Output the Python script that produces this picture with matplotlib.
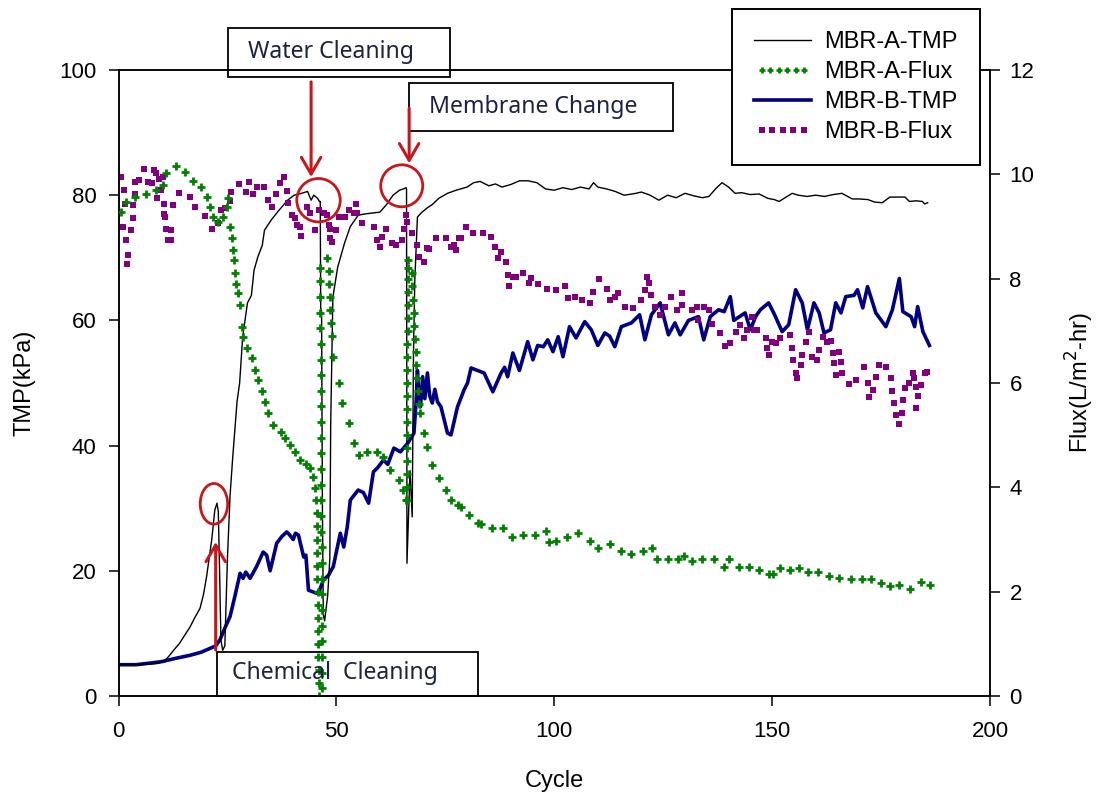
import matplotlib
matplotlib.use("Agg")
import matplotlib.pyplot as plt
from matplotlib.lines import Line2D
from matplotlib.patches import Rectangle, Ellipse
from matplotlib.legend_handler import HandlerLine2D

plt.rcParams['font.family'] = ['Liberation Sans', 'DejaVu Sans']

# ---------------- data ----------------
# MBR-A transmembrane pressure (kPa)
a_tmp_cycle = [0.6, 5, 9, 10.5, 11.5, 13, 14, 15, 16.4, 17.5, 18.7, 19.5, 20.2, 20.8, 21.4, 22.1, 22.6,
               22.9, 23.2, 23.5, 23.9, 24.4, 25.0, 25.6, 26.2, 26.7, 27.2, 27.8, 28.5, 29.6, 30.5, 31.1,
               32, 33, 33.5, 35, 36.6, 38.8, 40.3, 42, 43.4, 44.2, 44.8, 45.7, 46.1, 46.3, 46.4, 46.6,
               46.8, 47.0, 47.3, 48.0, 48.5, 48.7, 49.2, 50.3, 51.9, 53.2, 55, 56.5, 60, 61.5, 63, 64.5,
               65.4, 66.0, 66.1, 66.2, 66.9, 67.4, 67.7, 68.0, 68.6, 69.5, 70.9, 72, 73.5, 75.5, 77.5,
               80, 81.5, 83, 85, 86.5, 88, 90, 92, 94, 96, 98, 100, 102, 104, 106, 108, 109, 110, 112,
               114, 116, 118, 120, 122, 124, 126, 128, 130, 132, 134, 135.5, 137, 138.5, 140, 141.5,
               143, 145, 147, 149, 150.5, 151.6, 153, 154.6, 156, 158, 160, 162, 164, 166, 168.4, 170,
               172, 173.5, 175.3, 177, 179, 180.5, 181.5, 183, 184.5, 185, 185.7]
a_tmp = [5.0, 5.0, 5.2, 5.6, 6.3, 7.6, 8.4, 9.5, 11, 12.5, 14, 16.2, 19, 22, 25, 29.7, 30.8,
         29.5, 20, 9, 7.3, 8, 22, 32, 38, 42.5, 47, 50, 57.4, 62.8, 64, 68,
         70.2, 72, 74.4, 76, 77.4, 79.2, 80, 80.3, 80.6, 79.2, 80, 79.5, 79.0, 79, 62, 61.5,
         30, 13, 12, 16, 22, 43.6, 63.7, 68.5, 72.4, 75, 76.8, 77, 77.3, 78.5, 80, 80.8,
         81, 81.2, 81, 21.2, 36, 28.6, 55, 66.5, 76.5, 77.2, 78, 78.5, 79.5, 80.3, 80.8,
         81.3, 82, 82.2, 81.5, 81.8, 81.3, 81.7, 82.3, 82.3, 82.0, 81.0, 80.8, 81.2, 80.9, 81.3, 81, 82, 81.3, 81,
         80.6, 80.0, 80.2, 80.5, 80.0, 79.2, 80.0, 79.6, 80.3, 79.9, 79.6, 79.8, 81, 82, 81.3, 80.3,
         80.4, 80.1, 80.2, 79.5, 79.3, 79.0, 79.6, 80.3, 80.0, 79.8, 80, 79.8, 80.1, 80.3, 79.4, 79.4,
         79.3, 78.9, 78.8, 79.7, 79.7, 79.7, 79.0, 79.1, 79.0, 78.6, 78.8]

# MBR-B transmembrane pressure (kPa)
b_tmp_cycle = [0.6, 4, 7.8, 10, 13, 16.4, 19, 21, 22.3, 23.3, 24.5, 25.6, 26.7, 27.9, 28.6, 29.2, 30.2,
               31.7, 33.2, 34.0, 34.8, 36.3, 37.5, 38.6, 39.2, 40.1, 40.6, 41.3, 42.5, 43.0, 43.6, 45.5,
               46.2, 47, 48.2, 49.3, 50.3, 50.9, 51.7, 52.5, 53.2, 55, 56.2, 57.4, 58.5, 59.5, 60.8,
               61.8, 63.2, 64.7, 66.4, 67.8, 68.3, 68.6, 69.0, 69.3, 69.8, 70.3, 70.9, 71.4, 72, 72.6,
               73.2, 74, 75.5, 76.3, 77.8, 79.3, 80.1, 80.9, 82.4, 83.9, 85.9, 87.8, 88.6, 89.3, 90.5,
               92, 93.9, 95.1, 96.2, 97.5, 98.5, 99.7, 100.9, 102, 103.5, 105, 107, 108.5, 110, 111.6,
               112.7, 113.9, 115.4, 117.7, 119.6, 120.8, 122.3, 124.3, 126.2, 127.7, 128.9, 130.8,
               133.1, 134.3, 135.8, 137.7, 139, 140.4, 141.2, 143.8, 145, 146.2, 147.3, 149.2, 150.5,
               152.3, 153.8, 155.4, 156.9, 158.1, 159.6, 160.8, 161.9, 163.4, 164.6, 165.8, 166.9,
               168.8, 169.6, 170.8, 171.9, 173.8, 176.1, 177.6, 179.2, 180, 181.9, 182.7, 183.4, 184.6,
               186.1]
b_tmp = [5.0, 5.0, 5.3, 5.5, 6.0, 6.5, 7.0, 7.6, 8.0, 9.0, 11, 12.7, 15.9, 19.6, 18.8, 19.8, 18.8,
         20.7, 23, 22.5, 20, 24.4, 25.5, 26.2, 25.8, 25, 26, 25.7, 22.2, 22.5, 16.9, 16.4,
         17, 18.5, 19.3, 20.7, 24, 26, 23.8, 27, 31.3, 32.9, 32.5, 30.8, 35.8, 36.5, 37.7,
         37.0, 39.6, 39, 40.4, 42, 47, 52, 47, 46.2, 51, 47.5, 51.6, 48, 46.8, 49,
         47, 46.2, 42, 41.7, 46.2, 48.9, 50, 52.4, 52, 51.6, 48.6, 51.6, 52.5, 51, 54.8,
         52, 56.6, 53.7, 56, 55.8, 56.9, 55, 57.4, 54.2, 59, 57.2, 59.8, 58.5, 56, 58,
         57.5, 55.8, 59, 59.6, 60.9, 56.9, 60.9, 62.8, 57.7, 59.6, 57.7, 60,
         60.6, 56.9, 60.6, 61.7, 61.4, 63.8, 60, 61.2, 58.5, 60.6, 61.7, 62.8, 61,
         58.2, 59.3, 64.9, 62.8, 58.5, 62.8, 61.2, 58, 58.5, 62.8, 61.2, 63.8,
         64, 64.9, 62, 65.4, 61.2, 59, 61.7, 66.7, 61.4, 60.6, 59, 62.2, 58.2,
         56]

# MBR-A flux (L/m2-hr)
a_flux_cycle = [0.6, 1.8, 3.7, 6.4, 8.5, 10.2, 11.0, 13.1, 15.2, 17.0, 19.0, 20.3, 21.1, 21.7, 22.8,
                24.0, 24.8, 25.2, 25.6, 26.0, 26.2, 26.5, 26.8, 27.0, 27.5, 27.9, 28.3, 28.6, 29.4,
                30.6, 31.3, 32.1, 33.0, 33.6, 34.4, 35.5, 37.2, 38.3, 39.4, 40.5, 41.7, 43.0, 44.0,
                44.7, 45.2,
                45.40, 45.44, 45.48, 45.52, 45.56, 45.60, 45.64, 45.68, 45.72, 45.76, 45.80, 45.84,
                45.88, 45.92, 45.96, 46.00,
                46.75, 46.74, 46.72, 46.70, 46.69, 46.67, 46.65, 46.63, 46.62, 46.60, 46.58, 46.56,
                46.55, 46.53, 46.51, 46.49, 46.48, 46.46, 46.44, 46.42, 46.41, 46.39, 46.37, 46.35,
                46.34, 46.32, 46.30, 46.30, 47.9,
                48.2, 48.3, 48.45, 48.6, 48.75, 48.9, 49.3, 50.5, 51.3, 52.8, 54.0, 55.1, 57.0, 59.4,
                60.8, 62.4, 64.3, 65.4, 65.9,
                66.20, 66.21, 66.22, 66.23, 66.24, 66.25, 66.26, 66.27, 66.28, 66.29, 66.30, 66.31,
                66.32, 66.33, 66.34, 66.35, 66.36, 66.37, 66.38, 66.40,
                67.3, 67.45, 67.6, 67.75, 67.9, 68.05, 68.2, 68.35, 68.5, 68.7, 68.9,
                69.3, 70.0, 70.9, 72.0, 73.5, 75.1, 76.3, 77.8, 78.6, 80.5, 82.4, 83.2, 85.6, 88.2,
                90.3, 92.8, 95.5, 98.2, 98.7, 100.5, 103.0, 105.5, 108.1, 110.0, 112.7, 115.3, 117.7,
                120.4, 122.5, 123.5, 126.0, 128.5, 129.7, 131.6, 134.0, 136.6, 138.9, 140.0, 142.3,
                144.6, 147.0, 149.2, 150.2, 151.9, 154.0, 156.1, 158.3, 160.6, 163.0, 165.4, 168.0,
                170.6, 172.7, 175.0, 177.0, 179.2, 181.6, 184.2, 186.3]
a_flux = [9.28, 9.47, 9.57, 9.62, 9.7, 9.8, 10.02, 10.16, 10.05, 9.87, 9.76, 9.57, 9.38, 9.19, 9.09,
          9.19, 9.38, 9.55, 9.0, 8.78, 8.55, 8.36, 8.1, 7.9, 7.72, 7.5, 7.08, 6.89, 6.67,
          6.48, 6.25, 6.06, 5.85, 5.64, 5.42, 5.19, 5.06, 4.95, 4.81, 4.67, 4.52, 4.45, 4.37,
          4.2, 3.99,
          3.75, 3.5, 3.25, 3.0, 2.75, 2.5, 2.25, 2.0, 1.75, 1.5, 1.25, 1.0,
          0.75, 0.5, 0.25, 0.0,
          0.15, 0.45, 0.75, 1.05, 1.35, 1.65, 1.95, 2.25, 2.55, 2.85, 3.15, 3.45,
          3.75, 4.05, 4.35, 4.65, 4.95, 5.25, 5.55, 5.85, 6.15, 6.45, 6.75, 7.05,
          7.35, 7.65, 7.95, 8.2, 8.4,
          8.15, 7.9, 7.65, 7.4, 7.15, 6.9, 6.5, 6.0, 5.62, 5.23, 4.85, 4.62, 4.68, 4.68,
          4.59, 4.33, 4.14, 3.95, 3.76,
          3.75, 4.0, 4.25, 4.5, 4.75, 5.0, 5.25, 5.5, 5.75, 6.0, 6.25, 6.5,
          6.75, 7.0, 7.25, 7.5, 7.75, 8.0, 8.2, 8.36,
          8.1, 7.85, 7.6, 7.35, 7.1, 6.85, 6.6, 6.35, 6.1, 5.85, 5.6,
          5.42, 5.04, 4.78, 4.43, 4.18, 3.95, 3.76, 3.66, 3.63, 3.47, 3.31, 3.3, 3.23, 3.23,
          3.05, 3.09, 3.09, 3.17, 2.96, 2.98, 3.05, 3.13, 2.98, 2.83, 2.91, 2.77, 2.72,
          2.77, 2.83, 2.63, 2.63, 2.63, 2.69, 2.59, 2.63, 2.63, 2.48, 2.63, 2.48,
          2.48, 2.42, 2.33, 2.33, 2.45, 2.42, 2.45, 2.37, 2.37, 2.3, 2.27, 2.24,
          2.24, 2.24, 2.16, 2.11, 2.13, 2.05, 2.19, 2.13]

# MBR-B flux (L/m2-hr)
b_flux_cycle = [0.6, 1.0, 1.2, 1.4, 1.8, 1.9, 2.2, 2.9, 3.3, 3.3, 3.7, 3.7, 4.8, 5.8, 6.8, 7.8, 8.1,
                8.7, 8.8, 9.4, 9.8, 10.2, 10.4, 10.5, 10.6, 11, 11.4, 12.1, 12.1, 12.5, 13.9, 16.4,
                17.5, 19.8, 21.4, 22.9, 23.6, 24.4, 25.6, 25.8, 27.7, 29.3, 30, 30.9, 31.7, 33.4,
                34.4, 35.2, 36.2, 37.1, 38, 38.6, 39, 39.8, 40.6, 40.9, 41.7, 41.9, 43.2, 44, 45.2,
                45.9, 47.1, 47.9, 48.2, 48.6, 48.6, 49, 49.8, 50.5, 51.3, 52, 52.8, 54, 54.4, 54.8,
                55.9, 58.6, 59.4, 60.1, 60.5, 61.3, 62.8, 63.6, 65.1, 65.5, 65.9, 66.3, 67.4, 68.6,
                69, 70.1, 70.9, 71.3, 72.8, 75.1, 76.3, 77, 77.4, 78.2, 78.6, 79.7, 81.3, 83.6,
                85.5, 86.3, 87, 87.8, 88.9, 89.3, 89.7, 90.5, 91.2, 92.8, 94.3, 94.7, 96.2, 98.4,
                100.5, 102.4, 103.2, 104.7, 106.4, 108.1, 108.9, 110.3, 112, 112.7, 113.9, 114.7,
                116.2, 118.1, 120, 120.8, 121.2, 121.7, 122.2, 123.1, 124.3, 125.4, 126.8, 128.1,
                129.3, 129.3, 131.6, 132.7, 133.1, 134.3, 135.4, 136.2, 138.1, 139.3, 140.4, 141.6,
                142.6, 143.5, 144.2, 145.4, 145.8, 146.6, 148.5, 148.8, 149.2, 150, 150.8, 151.9,
                154.2, 154.5, 154.8, 155.4, 155.8, 156.6, 156.9, 157.7, 158.5, 159.2, 160.4, 160.8,
                161.6, 162.7, 163.4, 163.9, 164.2, 164.6, 165.4, 165.8, 166.1, 167.7, 169.2, 171.1,
                171.9, 172.3, 173.1, 173.8, 174.6, 176.1, 177.3, 177.6, 178, 178.4, 179.2, 179.8,
                180, 180.4, 181.5, 182.3, 182.6, 183, 183.4, 183, 184.2, 185, 185.5]
b_flux = [9.94, 9.0, 9.7, 9.44, 8.74, 8.29, 8.45, 8.93, 9.16, 9.41, 9.62, 9.86, 9.89, 10.11, 9.86, 9.83, 10.08,
          10.02, 9.54, 9.92, 9.7, 9.95, 9.44, 9.24, 9.19, 8.96, 8.74, 8.93, 8.74, 9.41, 9.65, 9.57,
          9.37, 9.2, 8.96, 9.06, 9.32, 9.35, 9.48, 9.67, 9.81, 9.67, 9.86, 9.62, 9.76, 9.76,
          9.51, 9.38, 9.62, 9.84, 9.94, 9.69, 9.46, 9.22, 9.16, 9.03, 9.0, 8.82, 9.38, 9.25, 8.93,
          9.32, 9.25, 9.22, 9.03, 8.96, 8.77, 8.71, 8.93, 9.19, 9.19, 9.19, 9.32, 9.25, 9.44, 9.25,
          9.06, 9.0, 8.74, 8.61, 8.8, 8.96, 8.68, 8.65, 8.74, 8.96, 9.22, 9.09, 8.87, 8.64,
          8.42, 8.32, 8.58, 8.56, 8.77, 8.77, 8.61, 8.64, 8.55, 8.77, 8.77, 9.0, 8.88, 8.88,
          8.8, 8.6, 8.39, 8.52, 8.32, 8.07, 7.85, 8.04, 8.04, 8.1, 7.91, 8.02, 7.9, 7.81,
          7.78, 7.85, 7.62, 7.64, 7.6, 7.54, 7.75, 8.0, 7.81, 7.59, 7.65, 7.72,
          7.46, 7.43, 7.59, 7.78, 8.04, 7.92, 7.69, 7.46, 7.3, 7.46, 7.65, 7.4,
          7.72, 7.5, 7.4, 7.46, 7.21, 7.46, 7.4, 7.14, 6.95, 6.7, 6.76, 6.98,
          7.11, 6.86, 7.02, 7.27, 7.02, 7.02, 6.86, 6.67, 6.54, 6.79, 6.76, 6.86,
          6.92, 6.67, 6.44, 6.19, 6.09, 6.35, 6.54, 6.79, 6.98, 6.5, 6.44, 6.64,
          6.89, 6.79, 6.8, 6.58, 6.38, 6.15, 6.6, 6.41, 6.19, 5.98, 6.06, 6.3,
          6.0, 5.74, 5.87, 6.12, 6.35, 6.3, 6.09, 5.85, 5.61, 5.39, 5.21, 5.43,
          5.67, 5.9, 6.0, 6.19, 6.1, 5.93, 5.75, 5.53, 5.96, 6.19, 6.22]

x_ticks = [0, 50, 100, 150, 200]
tmp_ticks = [0, 20, 40, 60, 80, 100]
flux_ticks = [0, 2, 4, 6, 8, 10, 12]
series_names = ["MBR-A-TMP", "MBR-A-Flux", "MBR-B-TMP", "MBR-B-Flux"]

# ---------------- styling ----------------
RED = "#c8161d"
NAVY = "#000080"
GREEN = "#008000"
PURPLE = "#800080"
NOTE_FONT = ['Noto Sans', 'DejaVu Sans']

W, H = 1098, 796
fig = plt.figure(figsize=(W / 100, H / 100), dpi=100)
fig.patch.set_facecolor("white")

left, right, top, bottom = 118.5, 990, 70, 696
ax = fig.add_axes([left / W, 1 - bottom / H, (right - left) / W, (bottom - top) / H])
ax2 = ax.twinx()

# pressure curves on the left axis
ax.plot(a_tmp_cycle, a_tmp, color="black", lw=1.0, zorder=3)
ax.plot(b_tmp_cycle, b_tmp, color=NAVY, lw=2.6, zorder=2)

# flux markers on the right axis
ax2.plot(a_flux_cycle, a_flux, linestyle="none", marker="+", ms=5.4, mew=2.0,
         color=GREEN, zorder=3)
ax2.plot(b_flux_cycle, b_flux, linestyle="none", marker="s", ms=4.9, mew=0,
         color=PURPLE, zorder=2)

ax.set_xlim(0, 200)
ax.set_ylim(0, 100)
ax2.set_ylim(0, 12)
ax.set_xticks(x_ticks)
ax.set_yticks(tmp_ticks)
ax2.set_yticks(flux_ticks)

for a in (ax, ax2):
    for s in a.spines.values():
        s.set_linewidth(1.1)
ax.tick_params(axis="both", direction="out", length=7, width=1.1, labelsize=16,
               top=False, right=False)
ax.tick_params(axis="y", pad=9)
ax.tick_params(axis="x", pad=11)
ax2.tick_params(axis="y", direction="out", length=7, width=1.1, labelsize=16, pad=7)

ax.set_xlabel("Cycle", fontsize=17, labelpad=20)
ax.set_ylabel("TMP(kPa)", fontsize=17, labelpad=17)
ax2.set_ylabel("Flux(L/m$^2$-hr)", fontsize=17, labelpad=21)

# ---------------- legend ----------------
handles = [
    Line2D([], [], color="black", lw=1.0),
    Line2D([], [], linestyle="none", marker="+", ms=5.0, mew=1.9, color=GREEN),
    Line2D([], [], color=NAVY, lw=2.6),
    Line2D([], [], linestyle="none", marker="s", ms=4.6, mew=0, color=PURPLE),
]
leg = fig.legend(handles, series_names, loc="upper left",
                 bbox_to_anchor=(732 / W, 1 - 9 / H), fontsize=17, frameon=True,
                 fancybox=False, framealpha=1, edgecolor="black", borderpad=0.95,
                 labelspacing=0.33, handlelength=2.4, handletextpad=0.55,
                 borderaxespad=0,
                 handler_map={handles[1]: HandlerLine2D(numpoints=6),
                              handles[3]: HandlerLine2D(numpoints=5)})
leg.get_frame().set_linewidth(1.4)

# ---------------- event annotations ----------------
tmp_tr = ax.transData


def note_box(x0, x1, y0, y1, text, tx, ty):
    ax2.add_patch(Rectangle((x0, y0), x1 - x0, y1 - y0, transform=tmp_tr, fill=False,
                            edgecolor="black", lw=1.3, clip_on=False, zorder=6))
    ax2.text(tx, ty, text, transform=tmp_tr, ha="center", va="center", fontsize=16.6,
             family=NOTE_FONT, color="#1c2340", clip_on=False, zorder=7)


def red_arrow(x, y_from, y_to):
    ax2.annotate("", xy=(x, y_to), xytext=(x, y_from), xycoords=tmp_tr, textcoords=tmp_tr,
                 arrowprops=dict(arrowstyle="->,head_length=0.6,head_width=0.35",
                                 color=RED, lw=2.2, mutation_scale=20,
                                 shrinkA=0, shrinkB=0),
                 annotation_clip=False, zorder=8)


def red_ring(cx, cy, w, h):
    ax2.add_patch(Ellipse((cx, cy), w, h, transform=tmp_tr, fill=False, edgecolor=RED,
                          lw=2.0, clip_on=False, zorder=8))


note_box(25.1, 76.1, 98.9, 106.7, "Water Cleaning", 48.8, 102.9)
note_box(66.7, 127.3, 90.3, 97.9, "Membrane Change", 95.2, 94.1)
note_box(22.5, 82.5, 0.0, 7.0, "Chemical  Cleaning", 49.7, 3.7)

red_arrow(44.2, 98.1, 82.9)
red_arrow(66.7, 93.9, 85.1)
red_arrow(22.3, 7.35, 24.6)

red_ring(45.9, 79.2, 9.97, 6.93)
red_ring(65.0, 81.5, 9.64, 6.71)
red_ring(21.9, 30.7, 6.29, 6.49)

fig.savefig("out.png", dpi=100)
